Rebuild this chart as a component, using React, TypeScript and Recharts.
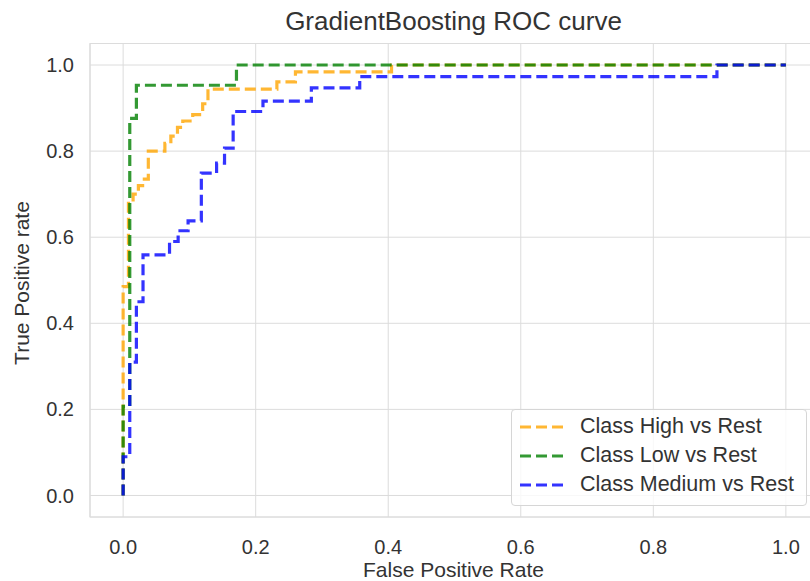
import React from "react";
import {
  LineChart,
  Line,
  XAxis,
  YAxis,
  CartesianGrid,
  ReferenceArea,
} from "recharts";

// ROC curve points (false positive rate / true positive rate) per class
const highFpr = [0, 0, 0.008, 0.008, 0.015, 0.015, 0.023, 0.023, 0.032, 0.032, 0.038, 0.038, 0.063, 0.063, 0.072, 0.072, 0.082, 0.082, 0.09, 0.09, 0.105, 0.105, 0.12, 0.12, 0.128, 0.128, 0.232, 0.232, 0.26, 0.26, 0.405, 0.405, 1];
const highTpr = [0, 0.485, 0.485, 0.683, 0.683, 0.7, 0.7, 0.72, 0.72, 0.735, 0.735, 0.8, 0.8, 0.818, 0.818, 0.835, 0.835, 0.855, 0.855, 0.87, 0.87, 0.885, 0.885, 0.91, 0.91, 0.944, 0.944, 0.961, 0.961, 0.984, 0.984, 1, 1];

const lowFpr = [0, 0, 0.01, 0.01, 0.02, 0.02, 0.171, 0.171, 1];
const lowTpr = [0, 0.207, 0.207, 0.876, 0.876, 0.953, 0.953, 1, 1];

const mediumFpr = [0, 0, 0.01, 0.01, 0.02, 0.02, 0.03, 0.03, 0.07, 0.07, 0.083, 0.083, 0.098, 0.098, 0.118, 0.118, 0.141, 0.141, 0.153, 0.153, 0.166, 0.166, 0.211, 0.211, 0.284, 0.284, 0.357, 0.357, 0.896, 0.896, 1];
const mediumTpr = [0, 0.09, 0.09, 0.31, 0.31, 0.45, 0.45, 0.559, 0.559, 0.59, 0.59, 0.615, 0.615, 0.638, 0.638, 0.749, 0.749, 0.772, 0.772, 0.807, 0.807, 0.892, 0.892, 0.916, 0.916, 0.947, 0.947, 0.973, 0.973, 1, 1];

const axisTicks = [0, 0.2, 0.4, 0.6, 0.8, 1.0];

const seriesNames = ["Class High vs Rest", "Class Low vs Rest", "Class Medium vs Rest"];
const seriesColors = ["#ffa500", "#008000", "#0000ff"];

const zip = (xs: number[], ys: number[]) => xs.map((fpr, i) => ({ fpr, tpr: ys[i] }));

const series = [
  { name: seriesNames[0], color: seriesColors[0], data: zip(highFpr, highTpr) },
  { name: seriesNames[1], color: seriesColors[1], data: zip(lowFpr, lowTpr) },
  { name: seriesNames[2], color: seriesColors[2], data: zip(mediumFpr, mediumTpr) },
];

const FONT = "'Liberation Sans', Arial, Helvetica, sans-serif";
const TEXT = "#333333";
const GRID = "#dcdcdc";
const DASH = "11 5";

export default function App() {
  return (
    <div
      style={{
        position: "fixed",
        left: 0,
        top: 0,
        width: 810,
        height: 581,
        overflow: "hidden",
        background: "#ffffff",
        fontFamily: FONT,
      }}
    >
      <LineChart
        width={830}
        height={581}
        margin={{ top: 43.5, right: 11, bottom: 0, left: 0 }}
        style={{ fontFamily: FONT }}
      >
        <CartesianGrid stroke={GRID} strokeWidth={1} />
        <ReferenceArea
          x1={-0.05}
          x2={1.05}
          y1={-0.05}
          y2={1.05}
          fill="none"
          stroke={GRID}
          strokeWidth={1.2}
          fillOpacity={0}
        />
        <XAxis
          type="number"
          dataKey="fpr"
          domain={[-0.05, 1.05]}
          ticks={axisTicks}
          tickFormatter={(v: number) => v.toFixed(1)}
          allowDataOverflow
          axisLine={false}
          tickLine={false}
          tickSize={0}
          tickMargin={23}
          height={64}
          tick={{ fill: TEXT, fontSize: 20, fontFamily: FONT }}
        />
        <YAxis
          type="number"
          dataKey="tpr"
          domain={[-0.05, 1.05]}
          ticks={axisTicks}
          tickFormatter={(v: number) => v.toFixed(1)}
          allowDataOverflow
          axisLine={false}
          tickLine={false}
          tickSize={0}
          tickMargin={16}
          width={90}
          tick={{ fill: TEXT, fontSize: 20, fontFamily: FONT }}
        />
        {series.map((s) => (
          <Line
            key={s.name}
            name={s.name}
            data={s.data}
            dataKey="tpr"
            type="linear"
            stroke={s.color}
            strokeOpacity={0.8}
            strokeWidth={3.2}
            strokeDasharray={DASH}
            dot={false}
            activeDot={false}
            isAnimationActive={false}
          />
        ))}
      </LineChart>

      {/* title */}
      <div
        style={{
          position: "absolute",
          left: 0,
          width: 907,
          top: 5,
          textAlign: "center",
          fontSize: 26,
          color: TEXT,
          lineHeight: "32px",
        }}
      >
        GradientBoosting ROC curve
      </div>

      {/* x axis label */}
      <div
        style={{
          position: "absolute",
          left: 0,
          width: 907,
          top: 556,
          textAlign: "center",
          fontSize: 21,
          color: TEXT,
          lineHeight: "28px",
        }}
      >
        False Positive Rate
      </div>

      {/* y axis label */}
      <div
        style={{
          position: "absolute",
          left: 22,
          top: 283,
          width: 0,
          height: 0,
        }}
      >
        <div
          style={{
            position: "absolute",
            left: 0,
            top: 0,
            transform: "translate(-50%, -50%) rotate(-90deg)",
            whiteSpace: "nowrap",
            fontSize: 21,
            color: TEXT,
            lineHeight: "28px",
          }}
        >
          True Positive rate
        </div>
      </div>

      {/* legend */}
      <div
        style={{
          position: "absolute",
          left: 511,
          top: 409,
          width: 296,
          height: 97,
          boxSizing: "border-box",
          border: "1px solid #d6d6d6",
          borderRadius: 4,
          background: "rgba(255,255,255,0.8)",
          paddingTop: 2,
        }}
      >
        {series.map((s) => (
          <div
            key={s.name}
            style={{ display: "flex", alignItems: "center", height: 29 }}
          >
            <svg width={68} height={10} style={{ flex: "none" }}>
              <line
                x1={8}
                x2={52}
                y1={5}
                y2={5}
                stroke={s.color}
                strokeOpacity={0.8}
                strokeWidth={3.2}
                strokeDasharray={DASH}
              />
            </svg>
            <span style={{ fontSize: 21.5, color: TEXT, whiteSpace: "nowrap" }}>{s.name}</span>
          </div>
        ))}
      </div>
    </div>
  );
}
